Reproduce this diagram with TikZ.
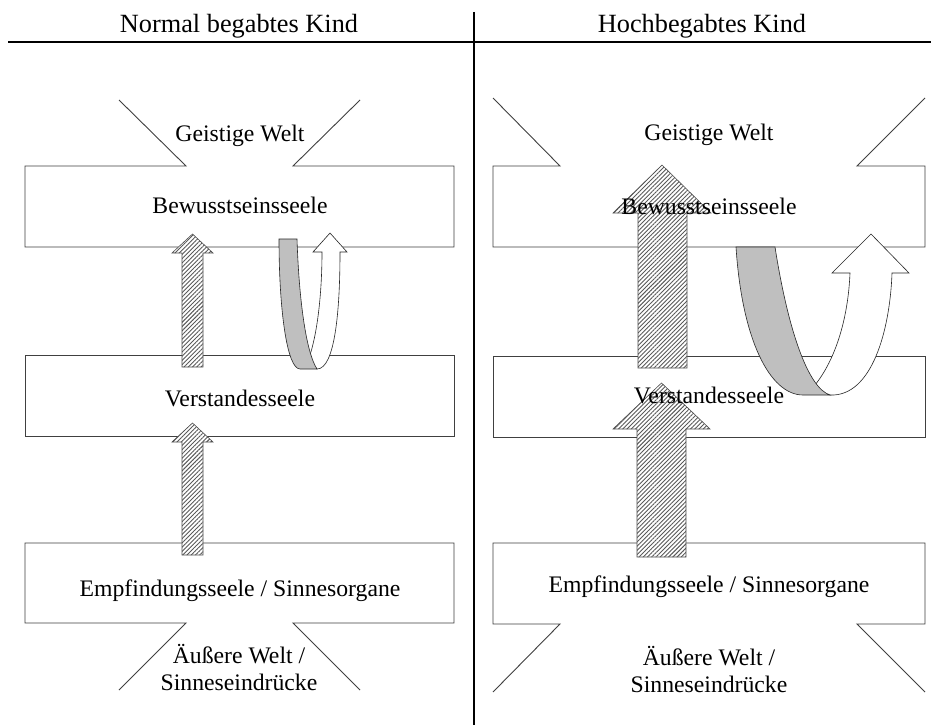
\documentclass[tikz,border=0pt]{standalone}
\usepackage{fontspec}
\setmainfont{Liberation Serif}
\usetikzlibrary{patterns.meta}
\begin{document}
\begin{tikzpicture}[x=1pt,y=-1pt,
  boxline/.style={line width=0.9pt, draw=black!75},
  rule/.style={line width=2pt, draw=black},
  hatcharrow/.style={draw=black!70, line width=0.6pt, preaction={fill=white}, pattern={Lines[angle=45,distance=3pt,line width=0.9pt]}, pattern color=black!65},
  grayband/.style={draw=black!85, line width=0.6pt, fill=black!25},
  whiteband/.style={draw=black!85, line width=0.6pt, fill=white},
  lbl/.style={anchor=base, inner sep=0pt, font=\fontsize{23.7}{28}\selectfont},
  hdr/.style={anchor=base, inner sep=0pt, font=\fontsize{26.3}{30}\selectfont}]
\useasboundingbox (0,0) rectangle (931,725);
\fill[white] (0,0) rectangle (931,725);

% rules
\draw[rule] (8,42) -- (931,42);
\draw[rule] (474,12) -- (474,725);

% left panel boxes
\draw[boxline] (119,100) -- (186,166) -- (25,166) -- (25,247) -- (454,247) -- (454,166) -- (293,166) -- (360,100);
\draw[boxline] (25,355) rectangle (454,436);
\draw[boxline] (119,690) -- (186,623) -- (25,623) -- (25,543) -- (454,543) -- (454,623) -- (293,623) -- (360,690);

% right panel boxes
\draw[boxline] (493,98) -- (560,166) -- (493,166) -- (493,247) -- (925,247) -- (925,166) -- (857,166) -- (925,98);
\draw[boxline] (493,356) rectangle (925,437);
\draw[boxline] (493,692) -- (560,624) -- (493,624) -- (493,543) -- (925,543) -- (925,624) -- (857,624) -- (925,692);

% left hatched arrows
\draw[hatcharrow] (182,367) -- (182,253) -- (172,253) -- (192.5,234) -- (213,253) -- (203,253) -- (203,367) -- cycle;
\draw[hatcharrow] (182,555) -- (182,442) -- (172,442) -- (192.5,423) -- (213,442) -- (203,442) -- (203,555) -- cycle;

% right hatched arrows
\draw[hatcharrow] (638,368) -- (638,213) -- (613,213) -- (662,165) -- (711,213) -- (687,213) -- (687,368) -- cycle;
\draw[hatcharrow] (637,557) -- (637,429) -- (613,429) -- (661.5,383) -- (710,429) -- (686,429) -- (686,557) -- cycle;

% left ribbon
\draw[whiteband] (305,362) -- (310,355) .. controls (318,330) and (322,290) .. (322,252)
  -- (313,252) -- (330,233) -- (347,252) -- (340,252)
  .. controls (340,310) and (335,369) .. (317,369) -- cycle;
\draw[grayband] (279,239) .. controls (279,310) and (287,369) .. (300,369) -- (317,369)
  .. controls (306,352) and (299,300) .. (297,239) -- cycle;

% right ribbon
\draw[whiteband] (808,390) -- (815,385) .. controls (835,360) and (848,320) .. (850,273)
  -- (832,273) -- (871,234) -- (909,273) -- (892,273)
  .. controls (890,330) and (872,397) .. (830,395) -- cycle;
\draw[grayband] (736,247) .. controls (742,340) and (770,395) .. (803,395) -- (830,395)
  .. controls (808,388) and (788,330) .. (775,247) -- cycle;

% texts
\node[hdr] (hl) at (239,33) {Normal begabtes Kind};
\node[hdr] (hr) at (702,33) {Hochbegabtes Kind};

\node[lbl] (lgw) at (240,141) {Geistige Welt};
\node[lbl] (lbs) at (240,213) {Bewusstseinsseele};
\node[lbl] (lvs) at (240,406) {Verstandesseele};
\node[lbl] (les) at (240,596) {Empfindungsseele / Sinnesorgane};
\node[lbl] (law) at (239,663) {Äußere Welt /};
\node[lbl] (lse) at (239,690) {Sinneseindrücke};

\node[lbl] (rgw) at (709,140) {Geistige Welt};
\node[lbl] (rbs) at (709,214) {Bewusstseinsseele};
\node[lbl] (rvs) at (709,403) {Verstandesseele};
\node[lbl] (res) at (709,592) {Empfindungsseele / Sinnesorgane};
\node[lbl] (raw) at (709,665) {Äußere Welt /};
\node[lbl] (rse) at (709,692) {Sinneseindrücke};
\end{tikzpicture}
\end{document}
